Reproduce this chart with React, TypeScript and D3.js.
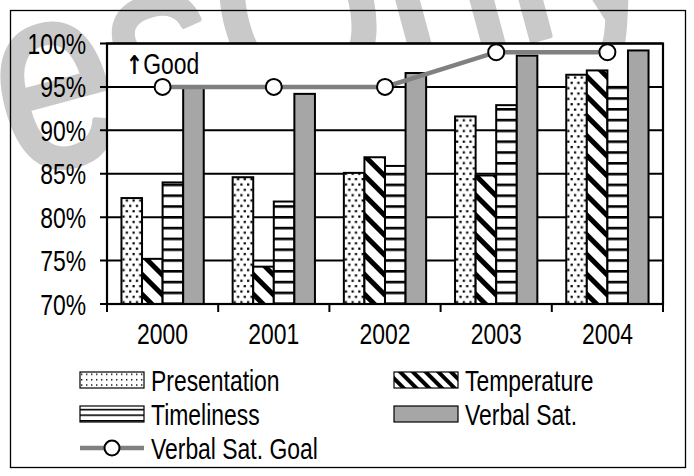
import React from "react";
import * as d3 from "d3";

const years = ["2000", "2001", "2002", "2003", "2004"];
const presentation = [82.2, 84.6, 85.1, 91.6, 96.4];
const temperature = [75.2, 74.3, 86.9, 84.8, 96.9];
const timeliness = [84.0, 81.8, 85.9, 92.9, 95.0];
const verbalSat = [95.0, 94.2, 96.6, 98.6, 99.2];
const verbalGoal = [95, 95, 95, 99, 99];
const yTicks = [70, 75, 80, 85, 90, 95, 100];
const seriesNames = ["Presentation", "Temperature", "Timeliness", "Verbal Sat."];
const goalName = "Verbal Sat. Goal";

const FONT = '"Liberation Sans", Arial, sans-serif';
const FS = 29;
const SX = 0.79;

function T(props: { x: number; y: number; anchor?: string; children: React.ReactNode; size?: number }) {
  const { x, y, anchor = "start", children, size = FS } = props;
  return (
    <text
      transform={`translate(${x},${y}) scale(${SX},1)`}
      textAnchor={anchor}
      fontFamily={FONT}
      fontSize={size}
      fill="#000"
    >
      {children}
    </text>
  );
}

export default function App() {
  const W = 694, H = 476;
  const plot = { left: 107, right: 663, top: 43.5, bottom: 304 };
  const y = d3.scaleLinear().domain([70, 100]).range([plot.bottom, plot.top]);
  const x = d3.scaleBand<string>().domain(years).range([plot.left, plot.right]).padding(0);
  const groupW = x.bandwidth() * 0.74;
  const inner = d3.scaleBand<string>().domain(seriesNames).range([0, groupW]).padding(0);
  const groupOff = (x.bandwidth() - groupW) / 2;
  const seriesData = [presentation, temperature, timeliness, verbalSat];
  const fills = ["url(#dots)", "url(#diag)", "url(#horiz)", "#a6a6a6"];
  const legendFills = ["url(#dotsL)", "url(#diagL)", "url(#horizL)", "#a6a6a6"];
  const cx = (yr: string) => (x(yr) as number) + x.bandwidth() / 2;
  const line = d3.line<number>().x((_, i) => cx(years[i])).y((v) => y(v));

  const legendItems = [
    { x: 80, y: 372 },
    { x: 394, y: 372 },
    { x: 80, y: 406 },
    { x: 394, y: 406 },
  ];

  return (
    <svg width={W} height={H} style={{ position: "absolute", left: 0, top: 0, background: "#fff" }}>
      <defs>
        <pattern id="dots" patternUnits="userSpaceOnUse" width={6.7} height={10.7}>
          <rect width={6.7} height={10.7} fill="#fff" />
          <rect x={1} y={1.5} width={2.2} height={2.2} fill="#000" />
          <rect x={4.35} y={6.85} width={2.2} height={2.2} fill="#000" />
        </pattern>
        <pattern id="dotsL" patternUnits="userSpaceOnUse" width={5} height={5.4}>
          <rect width={5} height={5.4} fill="#fff" />
          <rect x={1} y={1} width={1.4} height={1.4} fill="#000" />
        </pattern>
        <pattern id="diag" patternUnits="userSpaceOnUse" width={14} height={14} patternTransform="rotate(-45)">
          <rect width={14} height={14} fill="#fff" />
          <rect x={0} y={0} width={5} height={14} fill="#000" />
        </pattern>
        <pattern id="diagL" patternUnits="userSpaceOnUse" width={9} height={9} patternTransform="rotate(-45)">
          <rect width={9} height={9} fill="#fff" />
          <rect x={0} y={0} width={4} height={9} fill="#000" />
        </pattern>
        <pattern id="horiz" patternUnits="userSpaceOnUse" width={10} height={10.8}>
          <rect width={10} height={10.8} fill="#fff" />
          <rect x={0} y={0} width={10} height={2.6} fill="#000" />
        </pattern>
        <pattern id="horizL" patternUnits="userSpaceOnUse" width={10} height={5.6}>
          <rect width={10} height={5.6} fill="#fff" />
          <rect x={0} y={0} width={10} height={1.6} fill="#000" />
        </pattern>
      </defs>

      {/* watermark */}
      <g
        transform="translate(85,160) rotate(-15) scale(0.82,1)"
        fontFamily='"Liberation Sans", Arial, sans-serif'
        fontSize={262}
        fill="#c9c9c9"
        stroke="#c9c9c9"
        strokeWidth={6}
        strokeLinejoin="round"
      >
        <text x={-86}>es</text>
        <text x={197}>Only</text>
      </g>

      {/* outer border */}
      <rect x={10.5} y={10.5} width={675} height={457} fill="none" stroke="#000" strokeWidth={1.3} />

      {/* plot area */}
      <rect x={plot.left} y={plot.top} width={plot.right - plot.left} height={plot.bottom - plot.top} fill="#fff" />

      {/* gridlines */}
      {yTicks.map((t) => (
        <line key={t} x1={plot.left - 7} x2={plot.right} y1={y(t)} y2={y(t)} stroke="#000" strokeWidth={2} />
      ))}

      {/* bars */}
      {years.map((yr, i) => (
        <g key={yr} transform={`translate(${(x(yr) as number) + groupOff},0)`}>
          {seriesNames.map((s, k) => (
            <rect
              key={s}
              x={inner(s)}
              y={y(seriesData[k][i])}
              width={inner.bandwidth()}
              height={plot.bottom - y(seriesData[k][i])}
              fill={fills[k]}
              stroke="#000"
              strokeWidth={2}
            />
          ))}
        </g>
      ))}

      {/* plot border */}
      <rect x={plot.left} y={plot.top} width={plot.right - plot.left} height={plot.bottom - plot.top} fill="none" stroke="#000" strokeWidth={2.2} />

      {/* x ticks */}
      {years.concat(["end"]).map((yr, i) => {
        const xx = plot.left + i * x.bandwidth();
        return <line key={i} x1={xx} x2={xx} y1={plot.bottom} y2={plot.bottom + 8} stroke="#000" strokeWidth={2} />;
      })}

      {/* goal line */}
      <path d={line(verbalGoal) as string} fill="none" stroke="#808080" strokeWidth={4.5} />
      {verbalGoal.map((v, i) => (
        <circle key={i} cx={cx(years[i])} cy={y(v)} r={8} fill="#fff" stroke="#000" strokeWidth={2} />
      ))}

      {/* y labels */}
      {yTicks.map((t) => (
        <T key={t} x={86} y={y(t) + 10.5} anchor="end">
          {t}%
        </T>
      ))}

      {/* x labels */}
      {years.map((yr) => (
        <T key={yr} x={cx(yr)} y={344} anchor="middle">
          {yr}
        </T>
      ))}

      {/* Good label */}
      <text transform={`translate(126,74) scale(${SX},1)`} fontFamily={FONT} fontSize={FS} fill="#000">
        <tspan fontWeight="bold" fontFamily='"DejaVu Sans", sans-serif' fontSize={26}>↑</tspan>
        <tspan>Good</tspan>
      </text>

      {/* legend */}
      {seriesNames.map((s, k) => (
        <g key={s}>
          <rect x={legendItems[k].x} y={legendItems[k].y} width={64} height={16} fill={legendFills[k]} stroke="#000" strokeWidth={1.2} />
          <T x={legendItems[k].x + 71} y={legendItems[k].y + 18.5}>
            {s}
          </T>
        </g>
      ))}
      <line x1={80} x2={144} y1={448} y2={448} stroke="#808080" strokeWidth={4.5} />
      <circle cx={112} cy={448} r={7.5} fill="#fff" stroke="#000" strokeWidth={2} />
      <T x={151} y={458.5}>
        {goalName}
      </T>
    </svg>
  );
}
